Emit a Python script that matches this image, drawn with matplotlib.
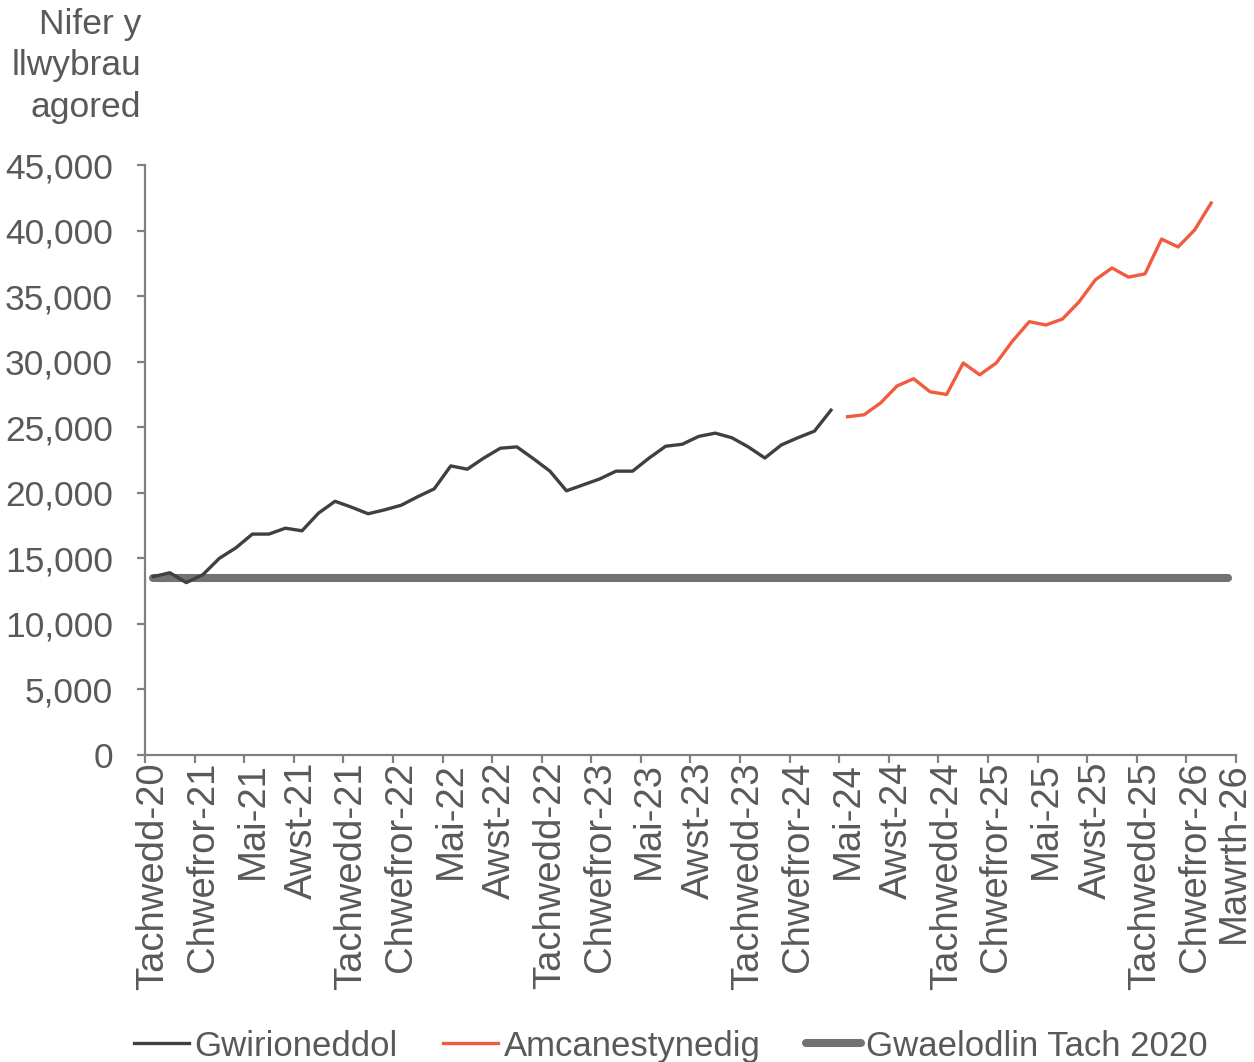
import numpy as np
import matplotlib.pyplot as plt
from matplotlib.lines import Line2D

plt.rcParams['font.family'] = ['Liberation Sans', 'DejaVu Sans']

# Monthly categories Tachwedd-20 (Nov 2020) .. Ebrill-26 (Apr 2026)
n_months = 66

# Actual open pathways, Nov-20 .. Apr-24
actual = [13600, 13900, 13150, 13750, 15000, 15800, 16850, 16850, 17300, 17100,
          18450, 19350, 18900, 18400, 18700, 19050, 19700, 20300, 22050, 21800,
          22650, 23400, 23500, 22600, 21650, 20150, 20600, 21050, 21650, 21650,
          22650, 23550, 23700, 24300, 24550, 24200, 23500, 22650, 23650, 24200,
          24700, 26300]

# Projected, May-24 .. Mar-26
projected = [25800, 25950, 26850, 28150, 28700, 27700, 27500, 29900, 29000, 29900,
             31600, 33050, 32800, 33250, 34550, 36250, 37150, 36450, 36700, 39350,
             38750, 40050, 42100]

baseline = 13500

tick_labels = ['Tachwedd-20', 'Chwefror-21', 'Mai-21', 'Awst-21',
               'Tachwedd-21', 'Chwefror-22', 'Mai-22', 'Awst-22',
               'Tachwedd-22', 'Chwefror-23', 'Mai-23', 'Awst-23',
               'Tachwedd-23', 'Chwefror-24', 'Mai-24', 'Awst-24',
               'Tachwedd-24', 'Chwefror-25', 'Mai-25', 'Awst-25',
               'Tachwedd-25', 'Chwefror-26', 'Mawrth-26']

grey_txt = '#595959'
axis_col = '#808080'

fig = plt.figure(figsize=(12.54, 10.62), dpi=100)
ax = fig.add_axes([0.1156, 0.2891, 0.870, 0.5555])

x_act = np.arange(len(actual))
x_proj = np.arange(len(actual), len(actual) + len(projected))
x_all = np.arange(n_months)

ax.plot(x_all, [baseline] * n_months, color='#767171', lw=5.8,
        solid_capstyle='round', zorder=2)
ax.plot(x_act, actual, color='#404040', lw=2.4, zorder=3)
ax.plot(x_proj, projected, color='#F15B40', lw=2.4, zorder=3)

ax.set_xlim(-0.5, n_months - 0.5)
ax.set_ylim(0, 45000)
ax.set_yticks(np.arange(0, 45001, 5000))
ax.set_yticklabels([f'{v:,}' for v in range(0, 45001, 5000)])

# tick marks at every 3rd category boundary, labels at category centres
ax.set_xticks(np.arange(-0.5, n_months, 3))
ax.set_xticklabels([])
label_pos = list(np.arange(0, 64, 3)) + [65.4]
ax.set_xticks(label_pos, minor=True)
ax.set_xticklabels(tick_labels, minor=True, rotation=90, va='top', ha='center')

for s in ['top', 'right']:
    ax.spines[s].set_visible(False)
for s in ['left', 'bottom']:
    ax.spines[s].set_color(axis_col)
    ax.spines[s].set_linewidth(1.6)

ax.tick_params(axis='y', which='major', length=6, width=1.6, color=axis_col,
               labelsize=25.5, labelcolor=grey_txt, pad=17)
ax.tick_params(axis='x', which='major', length=6, width=1.6, color=axis_col)
ax.tick_params(axis='x', which='minor', length=0, labelsize=27.5,
               labelcolor=grey_txt, pad=5)

fig.text(141 / 1254, 1 - 8 / 1062, 'Nifer y\nllwybrau\nagored', ha='right',
         va='top', fontsize=25.5, color=grey_txt, linespacing=1.32)

handles = [Line2D([], [], color='#404040', lw=2.4),
           Line2D([], [], color='#F15B40', lw=2.4),
           Line2D([], [], color='#767171', lw=5.8, solid_capstyle='round')]
labels = ['Gwirioneddol', 'Amcanestynedig', 'Gwaelodlin Tach 2020']
leg = fig.legend(handles, labels, loc='lower center', bbox_to_anchor=(0.535, -0.03),
                 ncol=3, frameon=False, fontsize=25, handlelength=1.6,
                 handletextpad=0.15, columnspacing=1.3)
for t in leg.get_texts():
    t.set_color(grey_txt)

fig.savefig('out.png', dpi=100)
